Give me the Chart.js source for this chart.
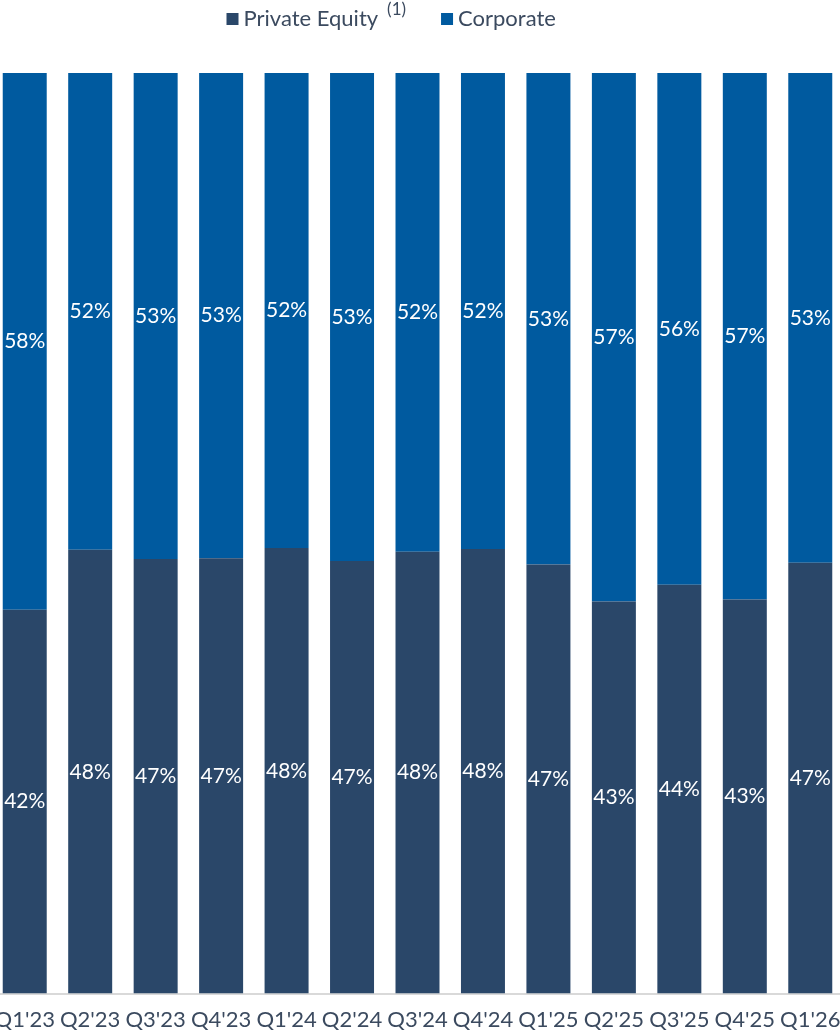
<!DOCTYPE html>
<html>
<head>
<meta charset="utf-8">
<script src="https://cdn.jsdelivr.net/npm/chart.js@4"></script>
<style>
  html, body { margin: 0; padding: 0; background: #fff; overflow: hidden; }
  #wrap { position: absolute; left: -8px; top: 0; width: 851px; height: 1033px; }
</style>
</head>
<body>
<div id="wrap"><canvas id="myChart"></canvas></div>
<script>
var quarters = ["Q1'23", "Q2'23", "Q3'23", "Q4'23", "Q1'24", "Q2'24", "Q3'24", "Q4'24", "Q1'25", "Q2'25", "Q3'25", "Q4'25", "Q1'26"];
var privateEquity = [41.7, 48.2, 47.2, 47.3, 48.4, 47.0, 48.0, 48.3, 46.6, 42.6, 44.4, 42.8, 46.8];
var corporate = [58.3, 51.8, 52.8, 52.7, 51.6, 53.0, 52.0, 51.7, 53.4, 57.4, 55.6, 57.2, 53.2];
var seriesNames = ["Private Equity", "Corporate"];
var barColors = ["#2a4769", "#005a9f"];

var fontName = "Lato, 'Open Sans', sans-serif";
var textColor = "#3b4a5f";

// draw the % in the middle of every segment
const segmentLabels = {
  id: "segmentLabels",
  afterDatasetsDraw(chart) {
    const ctx = chart.ctx;
    ctx.save();
    ctx.font = "21px " + fontName;
    ctx.fillStyle = "#ffffff";
    ctx.textAlign = "center";
    ctx.textBaseline = "middle";
    chart.data.datasets.forEach((ds, i) => {
      chart.getDatasetMeta(i).data.forEach((bar, j) => {
        const mid = (bar.y + bar.base) / 2;
        ctx.fillText(Math.round(ds.data[j]) + "%", bar.x, mid);
      });
    });
    ctx.restore();
  }
};

// legend with the (1) footnote as a superscript
const topLegend = {
  id: "topLegend",
  afterDraw(chart) {
    const ctx = chart.ctx;
    ctx.save();
    ctx.textBaseline = "alphabetic";
    ctx.textAlign = "left";
    let x = chart.width / 2 - 191;
    const base = 26;
    chart.data.datasets.forEach((ds, i) => {
      ctx.fillStyle = ds.backgroundColor;
      ctx.fillRect(x, 13, 12, 12);
      x += 17;
      ctx.fillStyle = textColor;
      ctx.font = "22px " + fontName;
      ctx.fillText(ds.label, x, base);
      x += ctx.measureText(ds.label).width;
      if (i === 0) {
        x += 9;
        ctx.font = "17px " + fontName;
        ctx.fillText("(1)", x, 15);
        x += ctx.measureText("(1)").width;
      }
      x += 35;
    });
    ctx.restore();
  }
};

new Chart("myChart", {
  type: "bar",
  data: {
    labels: quarters,
    datasets: [
      { label: seriesNames[0], data: privateEquity, backgroundColor: barColors[0] },
      { label: seriesNames[1], data: corporate, backgroundColor: barColors[1] }
    ]
  },
  options: {
    responsive: true,
    maintainAspectRatio: false,
    animation: false,
    layout: { padding: { top: 73, bottom: 0, left: 0, right: 0 } },
    datasets: { bar: { barPercentage: 0.672, categoryPercentage: 1 } },
    plugins: {
      legend: { display: false },
      tooltip: { enabled: false }
    },
    scales: {
      x: {
        stacked: true,
        grid: { display: true, drawOnChartArea: false, drawTicks: true, tickLength: 13, tickColor: "rgba(0,0,0,0)" },
        border: { color: "#d9d9d9", width: 2 },
        ticks: { color: textColor, padding: 0, maxRotation: 0, autoSkip: false, font: { family: fontName, size: 22 } }
      },
      y: {
        stacked: true,
        min: 0,
        max: 100,
        display: false
      }
    }
  },
  plugins: [segmentLabels, topLegend]
});
</script>
</body>
</html>
